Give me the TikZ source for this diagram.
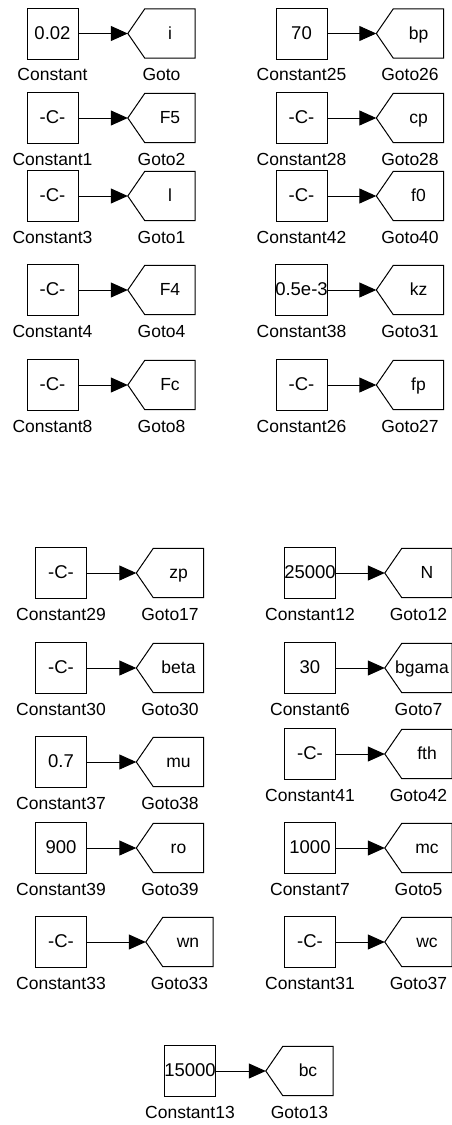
\documentclass[tikz,border=0pt]{standalone}
\usepackage{fontspec}
\setmainfont{Liberation Sans}
\usetikzlibrary{arrows.meta}
\tikzset{
  blkfont/.style={font=\fontsize{17.5}{20}\selectfont},
  valfont/.style={font=\fontsize{18.5}{20}\selectfont},
  cblk/.style={draw, line width=1pt, minimum width=51pt, minimum height=51pt, inner sep=0pt, valfont, text height=11.5pt, text depth=0pt},
  gbody/.style={minimum width=50pt, minimum height=49pt, inner sep=0pt, blkfont, text height=11pt, text depth=0pt},
  gline/.style={draw, line width=1pt, line join=miter},
  lbl/.style={inner sep=0pt, blkfont, anchor=base},
  conn/.style={line width=1pt, -{Triangle[length=17pt,width=15pt]}},
}
% id, y, const x, value, const label, goto body x, goto text, goto label
\newcommand{\ConstGoto}[8]{%
  \node[cblk] (c#1) at (#3,#2) {#4};
  \node[lbl] (c#1l) at (#3,#2+47) {#5};
  \node[gbody] (g#1) at (#6,#2) {#7};
  \coordinate (g#1t) at ([xshift=-17pt]g#1.west);
  \draw[gline] (g#1.north west) -- (g#1.north east) -- (g#1.south east) -- (g#1.south west) -- (g#1t) -- cycle;
  \node[lbl] (g#1l) at (#6-8.5,#2+47) {#8};
  \draw[conn] (c#1.east) -- (g#1t);
}
\begin{document}
\begin{tikzpicture}[x=1pt,y=-1pt]
\useasboundingbox (0,0) rectangle (452,1125);
% top-left column
\ConstGoto{1}{33.5}{52.5}{0.02}{Constant}{170}{i}{Goto}
\ConstGoto{2}{118}{52.5}{-C-}{Constant1}{170}{F5}{Goto2}
\ConstGoto{3}{196}{52.5}{-C-}{Constant3}{170}{l}{Goto1}
\ConstGoto{4}{290}{52.5}{-C-}{Constant4}{170}{F4}{Goto4}
\ConstGoto{5}{385}{52.5}{-C-}{Constant8}{170}{Fc}{Goto8}
% top-right column
\ConstGoto{6}{33.5}{301.5}{70}{Constant25}{418.5}{bp}{Goto26}
\ConstGoto{7}{118}{301.5}{-C-}{Constant28}{418.5}{cp}{Goto28}
\ConstGoto{8}{196}{301.5}{-C-}{Constant42}{418.5}{f0}{Goto40}
\ConstGoto{9}{290}{301.5}{0.5e-3}{Constant38}{418.5}{kz}{Goto31}
\ConstGoto{10}{385}{301.5}{-C-}{Constant26}{418.5}{fp}{Goto27}
% bottom-left column
\ConstGoto{11}{573}{61}{-C-}{Constant29}{178.5}{zp}{Goto17}
\ConstGoto{12}{668}{61}{-C-}{Constant30}{178.5}{beta}{Goto30}
\ConstGoto{13}{762}{61}{0.7}{Constant37}{178.5}{mu}{Goto38}
\ConstGoto{14}{848}{61}{900}{Constant39}{178.5}{ro}{Goto39}
\ConstGoto{15}{942}{61}{-C-}{Constant33}{188}{wn}{Goto33}
% bottom-right column
\ConstGoto{16}{573}{310}{25000}{Constant12}{427}{N}{Goto12}
\ConstGoto{17}{668}{310}{30}{Constant6}{427}{\hspace*{-10pt}bgama}{Goto7}
\ConstGoto{18}{754}{310}{-C-}{Constant41}{427}{fth}{Goto42}
\ConstGoto{19}{848}{310}{1000}{Constant7}{427}{mc}{Goto5}
\ConstGoto{20}{942}{310}{-C-}{Constant31}{427}{wc}{Goto37}
% bottom centre
\ConstGoto{21}{1071}{190}{15000}{Constant13}{308}{bc}{Goto13}
\end{tikzpicture}
\end{document}
